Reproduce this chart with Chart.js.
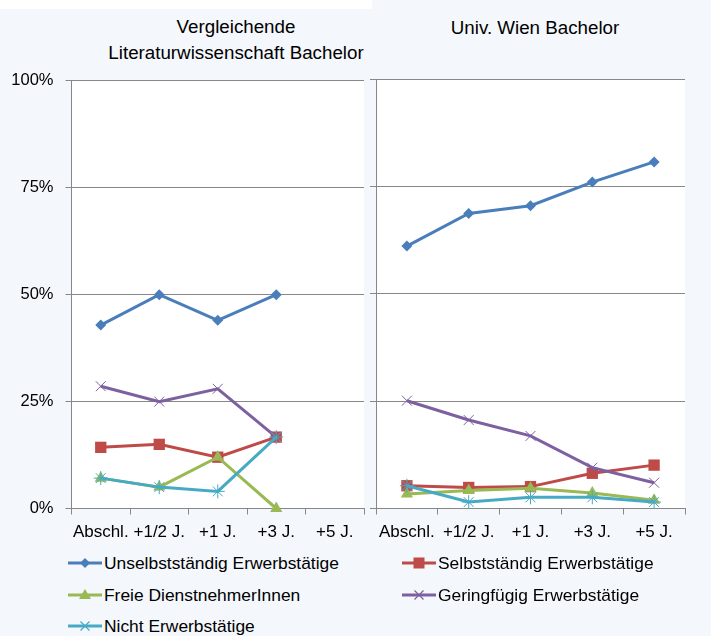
<!DOCTYPE html>
<html>
<head>
<meta charset="utf-8">
<script src="https://cdn.jsdelivr.net/npm/chart.js@4/dist/chart.umd.min.js"></script>
<style>
  body { margin: 0; background: #f4f7fc; font-family: "Liberation Sans", Arial, sans-serif; }
  #page { position: relative; width: 711px; height: 636px; overflow: hidden; }
  #topband { position: absolute; left: 0; top: 0; width: 372px; height: 9px; background: #fff; }
  .title { position: absolute; font-size: 18.75px; line-height: 26px; text-align: center; color: #000; white-space: nowrap; }
  canvas { position: absolute; }
  .legend-item { position: absolute; height: 24px; display: flex; align-items: center; font-size: 17.4px; color: #000; white-space: nowrap; }
  .legend-item svg { margin-right: 2px; }
</style>
</head>
<body>
<div id="page">
  <div id="topband"></div>
  <div class="title" style="left:86px; top:14px; width:300px;">Vergleichende<br>Literaturwissenschaft Bachelor</div>
  <div class="title" style="left:385px; top:15px; width:300px;">Univ. Wien Bachelor</div>
  <canvas id="chartLeft" width="372" height="491" style="left:0; top:59px;"></canvas>
  <canvas id="chartRight" width="340" height="480" style="left:366px; top:70px;"></canvas>
  <div id="legend"></div>
</div>
<script>
  const categories = ["Abschl.", "+1/2 J.", "+1 J.", "+3 J.", "+5 J."];
  const yTicks = [0, 25, 50, 75, 100];

  const seriesNames = [
    "Unselbstständig Erwerbstätige",
    "Selbstständig Erwerbstätige",
    "Freie DienstnehmerInnen",
    "Geringfügig Erwerbstätige",
    "Nicht Erwerbstätige",
  ];
  const seriesColors = ["#4a7ebb", "#be4b48", "#98b954", "#7d60a0", "#46aac5"];
  const seriesMarkers = ["rectRot", "rect", "triangle", "crossRot", "star"];

  // Vergleichende Literaturwissenschaft Bachelor (in %)
  const unselbstLeft = [42.9, 50, 44, 50, null];
  const selbstLeft = [14.3, 15, 12, 16.7, null];
  const freieLeft = [7.1, 5, 12, 0, null];
  const geringLeft = [28.6, 25, 28, 16.7, null];
  const nichtLeft = [7.1, 5, 4, 16.7, null];

  // Univ. Wien Bachelor (in %)
  const unselbstRight = [61.1, 68.7, 70.5, 76.0, 80.7];
  const selbstRight = [5.3, 4.9, 5.1, 8.2, 10.1];
  const freieRight = [3.4, 4.2, 4.7, 3.6, 1.9];
  const geringRight = [25.1, 20.6, 16.9, 9.5, 6.0];
  const nichtRight = [5.3, 1.5, 2.6, 2.6, 1.5];

  const gridColor = "#878787";
  const markerRadius = [5.5, 8, 7, 7, 7];

  function buildDatasets(values) {
    return values.map((data, i) => ({
      label: seriesNames[i],
      data: data,
      borderColor: seriesColors[i],
      backgroundColor: seriesColors[i],
      borderWidth: 3,
      pointStyle: seriesMarkers[i],
      pointRadius: markerRadius[i],
      pointBorderWidth: i >= 3 ? 1 : 0,
      pointBorderColor: seriesColors[i],
      pointBackgroundColor: seriesColors[i],
      tension: 0,
      clip: false,
      order: values.length - i,
    }));
  }

  function makeChart(canvasId, values, showLabels, yWidth, padRight) {
    const ctx = document.getElementById(canvasId).getContext("2d");
    return new Chart(ctx, {
      type: "line",
      data: { labels: categories, datasets: buildDatasets(values) },
      options: {
        responsive: false,
        animation: false,
        layout: { padding: { top: 9, right: padRight, left: 0, bottom: 0 } },
        plugins: { legend: { display: false }, tooltip: { enabled: false } },
        scales: {
          x: {
            offset: true,
            grid: { offset: true, drawOnChartArea: false, drawTicks: true, tickLength: 6, color: gridColor },
            border: { color: gridColor, width: 1 },
            ticks: {
              color: "#000",
              padding: 8,
              maxRotation: 0,
              autoSkip: false,
              font: { family: "Liberation Sans", size: 17 },
            },
            afterFit: (scale) => { scale.height = 41.5; },
          },
          y: {
            min: 0,
            max: 100,
            afterBuildTicks: (scale) => { scale.ticks = yTicks.map((v) => ({ value: v })); },
            grid: { color: gridColor, tickLength: 6, lineWidth: 1 },
            border: { color: gridColor, width: 1 },
            ticks: {
              display: showLabels,
              color: "#000",
              padding: 12,
              font: { family: "Liberation Sans", size: 16.5 },
              callback: (v) => v + "%",
            },
            afterFit: (scale) => { scale.width = yWidth; },
          },
        },
      },
      plugins: [{
        id: "plotBg",
        beforeDraw(chart) {
          const a = chart.chartArea;
          const c = chart.ctx;
          c.save();
          c.fillStyle = "#ffffff";
          c.fillRect(a.left, a.top, a.right - a.left, a.bottom - a.top);
          c.restore();
        },
      }],
    });
  }

  makeChart("chartLeft", [unselbstLeft, selbstLeft, freieLeft, geringLeft, nichtLeft], true, 71.5, 2);
  makeChart("chartRight", [unselbstRight, selbstRight, freieRight, geringRight, nichtRight], false, 10, 21);

  // legend
  function markerSvg(i) {
    const c = seriesColors[i];
    let m = "";
    if (i === 0) m = `<polygon points="17,7 22,12 17,17 12,12" fill="${c}"/>`;
    if (i === 1) m = `<rect x="11.5" y="6.5" width="11" height="11" fill="${c}"/>`;
    if (i === 2) m = `<polygon points="17,6 23,16 11,16" fill="${c}"/>`;
    if (i === 3) m = `<path d="M12.5,7.5 L21.5,16.5 M21.5,7.5 L12.5,16.5" stroke="${c}" stroke-width="1.2"/>`;
    if (i === 4) m = `<path d="M12.5,7.5 L21.5,16.5 M21.5,7.5 L12.5,16.5 M11,12 L23,12" stroke="${c}" stroke-width="1.2"/>`;
    return `<svg width="34" height="24"><line x1="0" y1="12" x2="34" y2="12" stroke="${c}" stroke-width="3"/>${m}</svg>`;
  }

  const legendPos = [[68, 563], [402, 563], [68, 595], [402, 595], [68, 626]];
  const legend = document.getElementById("legend");
  seriesNames.forEach((name, i) => {
    const item = document.createElement("div");
    item.className = "legend-item";
    item.style.left = legendPos[i][0] + "px";
    item.style.top = (legendPos[i][1] - 12) + "px";
    item.innerHTML = markerSvg(i) + "<span>" + name + "</span>";
    legend.appendChild(item);
  });
</script>
</body>
</html>
